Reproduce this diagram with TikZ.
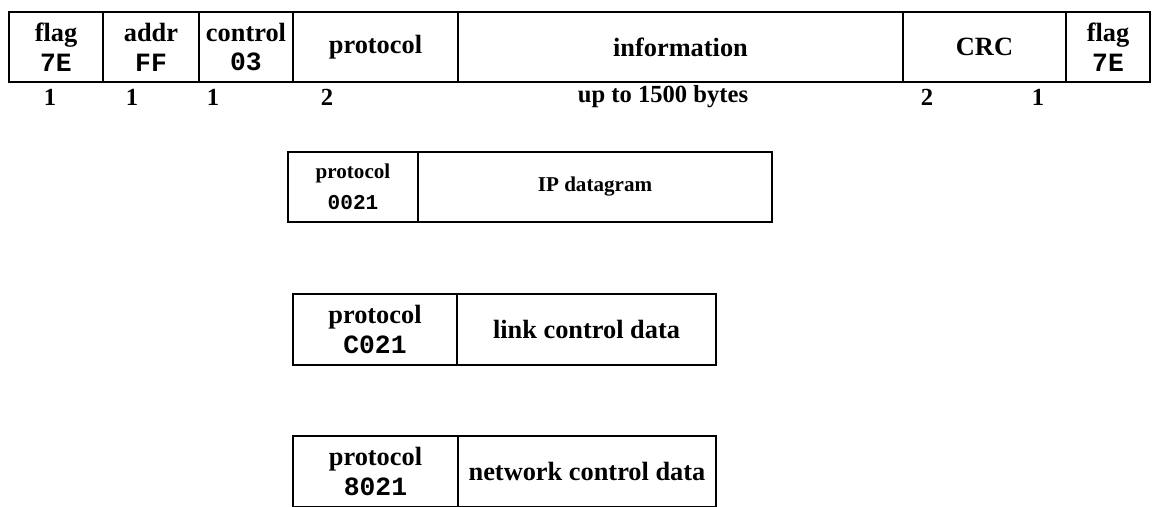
\documentclass[tikz,border=0pt]{standalone}
\usepackage{fontspec}
\setmainfont{Liberation Serif}
\setmonofont{Liberation Mono}
\newcommand{\hexv}[1]{{\ttfamily\bfseries #1}}

\begin{document}
\begin{tikzpicture}
\useasboundingbox (0,0) rectangle (23.06,10.12);
% PPP frame
\begin{scope}[every node/.style={rectangle,draw,line width=1pt,minimum height=1.4cm,inner sep=0pt,align=center,font=\fontsize{15}{17}\selectfont\bfseries}]
    \node[minimum width=1.88cm] (F1) at (1.12,9.18) {flag\\\hexv{7E}};
    \node[minimum width=1.92cm] (F2) at (3.02,9.18) {addr\\\hexv{FF}};
    \node[minimum width=1.88cm] (F3) at (4.92,9.18) {control\\\hexv{03}};
    \node[minimum width=3.30cm] (F4) at (7.51,9.18) {protocol};
    \node[minimum width=8.90cm] (F5) at (13.61,9.18) {information};
    \node[minimum width=3.26cm] (F6) at (19.69,9.18) {CRC};
    \node[minimum width=1.68cm] (F7) at (22.16,9.18) {flag\\\hexv{7E}};
\end{scope}
% field sizes
\begin{scope}[every node/.style={inner sep=0pt,font=\fontsize{14}{16}\selectfont\bfseries}]
    \node (N1) at (1.00,8.18) {1};
    \node (N2) at (2.64,8.18) {1};
    \node (N3) at (4.26,8.18) {1};
    \node (N4) at (6.54,8.18) {2};
    \node (N5) at (13.26,8.18) {up to 1500 bytes};
    \node (N6) at (18.54,8.18) {2};
    \node (N7) at (20.76,8.18) {1};
\end{scope}
% IP datagram
\begin{scope}[every node/.style={rectangle,draw,line width=1pt,minimum height=1.4cm,inner sep=0pt,align=center,font=\fontsize{12}{17.5}\selectfont\bfseries}]
    \node[minimum width=2.60cm] (P1) at (7.06,6.38) {protocol\\\hexv{0021}};
    \node[minimum width=7.08cm] (D1) at (11.90,6.38) {IP datagram};
\end{scope}
% link and network control
\begin{scope}[every node/.style={rectangle,draw,line width=1pt,minimum height=1.42cm,inner sep=0pt,align=center,font=\fontsize{15}{17.5}\selectfont\bfseries}]
    \node[minimum width=3.28cm] (P2) at (7.50,3.53) {protocol\\\hexv{C021}};
    \node[minimum width=5.18cm] (D2) at (11.73,3.53) {link control data};
    \node[minimum width=3.30cm] (P3) at (7.51,0.69) {protocol\\\hexv{8021}};
    \node[minimum width=5.16cm] (D3) at (11.74,0.69) {network control data};
\end{scope}
\end{tikzpicture}
\end{document}
